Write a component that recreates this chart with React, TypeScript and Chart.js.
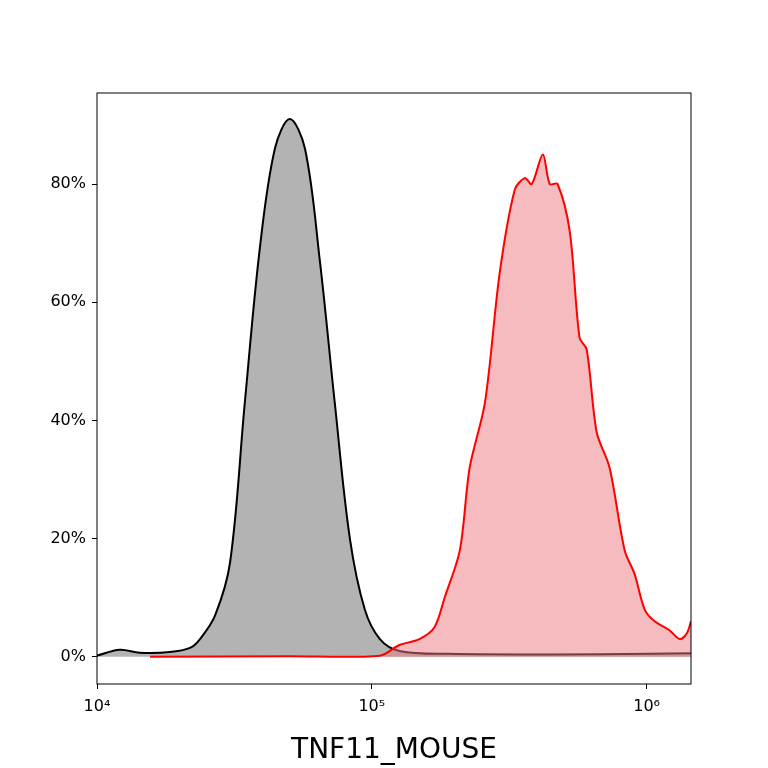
import { useEffect, useRef } from "react"
import { Chart, registerables } from "chart.js"

Chart.register(...registerables)

const controlX = [1e4, 1.21e4, 1.43e4, 1.84e4, 2.18e4, 2.37e4, 2.69e4, 3.05e4, 3.45e4, 3.91e4, 4.44e4, 5.03e4, 5.71e4, 6.47e4, 7.33e4, 8.32e4, 9.43e4, 1.07e5, 1.26e5, 1.92e5, 4.44e5, 1.03e6, 1.45e6]
const controlY = [0.2, 1.2, 0.7, 0.8, 1.5, 3, 7, 16, 43, 69, 86, 91, 86, 67, 43, 20, 8, 3, 1, 0.5, 0.4, 0.5, 0.6]

const sampleX = [1.56e4, 5e4, 1.07e5, 1.26e5, 1.49e5, 1.69e5, 1.84e5, 2.09e5, 2.27e5, 2.58e5, 2.92e5, 3.31e5, 3.6e5, 3.82e5, 4.19e5, 4.44e5, 4.74e5, 5.25e5, 5.7e5, 6.05e5, 6.58e5, 7.33e5, 8.32e5, 9.04e5, 9.84e5, 1.07e6, 1.21e6, 1.32e6, 1.4e6, 1.45e6]
const sampleY = [0, 0.1, 0.2, 2, 3, 5, 10, 18, 32, 43, 65, 79, 81, 80, 85, 80, 80, 72, 54, 52, 38, 32, 18, 14, 8, 6, 4.5, 3, 4, 6]

const xTicks = [1e4, 1e5, 1e6]
const yTicks = [0, 20, 40, 60, 80]
const sup: Record<string, string> = { "4": "⁴", "5": "⁵", "6": "⁶" }

const frame = {
  id: "frame",
  afterDraw(chart: Chart) {
    const { ctx, chartArea: a } = chart
    ctx.save()
    ctx.strokeStyle = "#000"
    ctx.lineWidth = 1
    ctx.strokeRect(a.left, a.top, a.right - a.left, a.bottom - a.top)
    ctx.restore()
  },
}

export default function App() {
  const ref = useRef<HTMLCanvasElement>(null)

  useEffect(() => {
    document.body.style.margin = "0"
    if (!ref.current) return
    const chart = new Chart(ref.current, {
      type: "line",
      data: {
        datasets: [
          {
            data: sampleX.map((x, i) => ({ x, y: sampleY[i] })),
            borderColor: "#ff0000",
            backgroundColor: "rgba(235, 120, 125, 0.5)",
            fill: "origin",
            borderWidth: 2,
            pointRadius: 0,
            tension: 0.3,
          },
          {
            data: controlX.map((x, i) => ({ x, y: controlY[i] })),
            borderColor: "#000",
            backgroundColor: "#b3b3b3",
            fill: "origin",
            borderWidth: 2,
            pointRadius: 0,
            tension: 0.35,
          },
        ],
      },
      options: {
        animation: false,
        responsive: false,
        layout: { padding: { top: 93, right: 77, bottom: 0, left: 0 } },
        plugins: { legend: { display: false }, tooltip: { enabled: false } },
        scales: {
          x: {
            type: "logarithmic",
            min: 1e4,
            max: 1.45e6,
            grid: { display: true, drawOnChartArea: false, drawTicks: true, tickLength: 5, color: "#000" },
            border: { display: false },
            afterBuildTicks: (s: any) => {
              s.ticks = xTicks.map((v) => ({ value: v }))
            },
            ticks: {
              color: "#000",
              padding: 8,
              font: { family: "DejaVu Sans", size: 16 },
              maxRotation: 0,
              callback: (v: any) => "10" + sup[String(Math.round(Math.log10(v)))],
            },
            title: {
              display: true,
              text: "TNF11_MOUSE",
              color: "#000",
              font: { family: "DejaVu Sans", size: 28 },
              padding: { top: 0, bottom: 0 },
            },
            afterFit: (s: any) => {
              s.height = 84
            },
          },
          y: {
            min: -4.6,
            max: 95.4,
            grid: { display: true, drawOnChartArea: false, drawTicks: true, tickLength: 5, color: "#000" },
            border: { display: false },
            afterBuildTicks: (s: any) => {
              s.ticks = yTicks.map((v) => ({ value: v }))
            },
            ticks: {
              color: "#000",
              padding: 6,
              font: { family: "DejaVu Sans", size: 16 },
              callback: (v: any) => v + "%",
            },
            afterFit: (s: any) => {
              s.width = 97
            },
          },
        },
      },
      plugins: [frame],
    })
    return () => chart.destroy()
  }, [])

  return <canvas ref={ref} width={768} height={768} />
}
